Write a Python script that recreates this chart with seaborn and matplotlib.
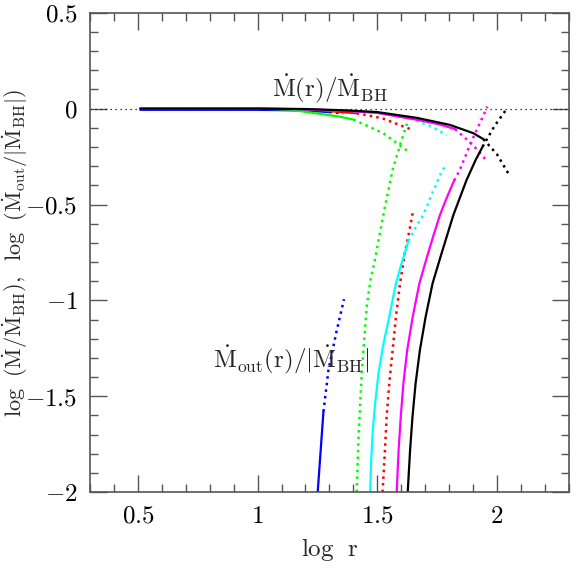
import matplotlib
matplotlib.use("Agg")
import matplotlib.pyplot as plt
import seaborn as sns
import pandas as pd
from matplotlib.ticker import MultipleLocator, FuncFormatter

# ---------------- data ----------------
# log(Mdot(r)/Mdot_BH) curves (top) and log(Mdot_out/|Mdot_BH|) curves (rising from bottom)
black_top_x = [0.51, 0.8, 1.0, 1.2, 1.386, 1.5, 1.665, 1.804, 1.901, 1.943]
black_top_y = [0.0, 0.0, 0.0, -0.002, -0.010, -0.018, -0.048, -0.085, -0.128, -0.159]
black_topd_x = [1.943, 2.0, 2.047]
black_topd_y = [-0.159, -0.238, -0.337]
black_out_x = [1.627, 1.637, 1.647, 1.660, 1.678, 1.702, 1.731, 1.766, 1.818, 1.873, 1.910, 1.940]
black_out_y = [-2.0, -1.781, -1.607, -1.433, -1.259, -1.085, -0.911, -0.765, -0.554, -0.372, -0.27, -0.198]
black_outd_x = [1.940, 1.99, 2.043]
black_outd_y = [-0.198, -0.09, 0.003]

magenta_top_x = [0.51, 0.8, 1.0, 1.2, 1.386, 1.5, 1.665, 1.76, 1.825]
magenta_top_y = [0.0, 0.0, 0.0, -0.003, -0.012, -0.022, -0.058, -0.082, -0.107]
magenta_topd_x = [1.825, 1.90, 1.96]
magenta_topd_y = [-0.107, -0.19, -0.276]
magenta_out_x = [1.581, 1.589, 1.598, 1.609, 1.625, 1.648, 1.676, 1.706, 1.735, 1.762, 1.790, 1.821]
magenta_out_y = [-2.0, -1.781, -1.607, -1.433, -1.259, -1.085, -0.911, -0.78, -0.66, -0.554, -0.465, -0.375]
magenta_outd_x = [1.821, 1.845, 1.89, 1.96]
magenta_outd_y = [-0.375, -0.319, -0.18, 0.011]

cyan_top_x = [0.51, 0.8, 1.0, 1.2, 1.386, 1.5, 1.637]
cyan_top_y = [0.0, 0.0, 0.0, -0.003, -0.012, -0.022, -0.050]
cyan_topd_x = [1.637, 1.72, 1.79]
cyan_topd_y = [-0.050, -0.09, -0.137]
cyan_out_x = [1.470, 1.474, 1.480, 1.490, 1.505, 1.525, 1.550, 1.578, 1.603, 1.630]
cyan_out_y = [-2.0, -1.85, -1.70, -1.55, -1.38, -1.23, -1.085, -0.911, -0.80, -0.69]
cyan_outd_x = [1.630, 1.660, 1.692, 1.730, 1.769, 1.790]
cyan_outd_y = [-0.69, -0.62, -0.554, -0.44, -0.328, -0.288]

red_top_x = [0.51, 0.8, 1.0, 1.2, 1.414]
red_top_y = [0.0, 0.0, 0.0, -0.004, -0.024]
red_topd_x = [1.414, 1.52, 1.609, 1.650]
red_topd_y = [-0.024, -0.05, -0.093, -0.112]
red_outd_x = [1.522, 1.532, 1.539, 1.550, 1.564, 1.578, 1.595, 1.614, 1.632, 1.648]
red_outd_y = [-2.0, -1.781, -1.607, -1.433, -1.259, -1.085, -0.911, -0.76, -0.65, -0.542]

green_top_x = [0.51, 0.8, 1.0, 1.135, 1.275, 1.344, 1.40]
green_top_y = [0.002, 0.002, 0.0, -0.005, -0.030, -0.042, -0.057]
green_topd_x = [1.40, 1.525, 1.63]
green_topd_y = [-0.057, -0.128, -0.224]
green_outd_x = [1.414, 1.421, 1.435, 1.456, 1.472, 1.490, 1.525, 1.564, 1.60, 1.63]
green_outd_y = [-2.0, -1.73, -1.38, -1.03, -0.89, -0.789, -0.554, -0.319, -0.17, -0.055]

blue_top_x = [0.51, 0.8, 1.0, 1.2, 1.30]
blue_top_y = [-0.006, -0.006, -0.006, -0.010, -0.018]
blue_topd_x = [1.30, 1.358]
blue_topd_y = [-0.018, -0.024]
blue_out_x = [1.251, 1.263, 1.275]
blue_out_y = [-2.0, -1.79, -1.58]
blue_outd_x = [1.275, 1.296, 1.33, 1.361]
blue_outd_y = [-1.58, -1.363, -1.16, -0.994]

zero_x = [0.3, 2.3]
zero_y = [0.0, 0.0]

# ---------------- style ----------------
sns.set_style("ticks")
plt.rcParams.update({
    "font.family": ["DejaVu Serif"],
    "mathtext.fontset": "cm",
    "axes.edgecolor": "#555555",
    "axes.linewidth": 1.2,
    "xtick.color": "#555555",
    "ytick.color": "#555555",
    "xtick.labelcolor": "black",
    "ytick.labelcolor": "black",
})

fig = plt.figure(figsize=(5.81, 5.81), dpi=100)
ax = fig.add_axes([0.155, 0.153, 0.824, 0.825])

segments = [
    (blue_top_x, blue_top_y, "#0000ff", "-"),
    (blue_topd_x, blue_topd_y, "#0000ff", ":"),
    (blue_out_x, blue_out_y, "#0000ff", "-"),
    (blue_outd_x, blue_outd_y, "#0000ff", ":"),
    (red_top_x, red_top_y, "#ff0000", "-"),
    (red_topd_x, red_topd_y, "#ff0000", ":"),
    (red_outd_x, red_outd_y, "#ff0000", ":"),
    (green_top_x, green_top_y, "#00ff00", "-"),
    (green_topd_x, green_topd_y, "#00ff00", ":"),
    (green_outd_x, green_outd_y, "#00ff00", ":"),
    (cyan_top_x, cyan_top_y, "#00ffff", "-"),
    (cyan_topd_x, cyan_topd_y, "#00ffff", ":"),
    (cyan_out_x, cyan_out_y, "#00ffff", "-"),
    (cyan_outd_x, cyan_outd_y, "#00ffff", ":"),
    (magenta_top_x, magenta_top_y, "#ff00ff", "-"),
    (magenta_topd_x, magenta_topd_y, "#ff00ff", ":"),
    (magenta_out_x, magenta_out_y, "#ff00ff", "-"),
    (magenta_outd_x, magenta_outd_y, "#ff00ff", ":"),
    (black_top_x, black_top_y, "black", "-"),
    (black_topd_x, black_topd_y, "black", ":"),
    (black_out_x, black_out_y, "black", "-"),
    (black_outd_x, black_outd_y, "black", ":"),
]

sns.lineplot(x=zero_x, y=zero_y, ax=ax, color="black", linestyle=(0, (1, 3)),
             linewidth=0.9, estimator=None, sort=False)
for xs, ys, c, ls in segments:
    df = pd.DataFrame({"x": xs, "y": ys})
    sns.lineplot(data=df, x="x", y="y", ax=ax, color=c,
                 linestyle=ls, linewidth=1.6 if ls == "-" else 1.8,
                 estimator=None, sort=False)

ax.set_xlim(0.3, 2.3)
ax.set_ylim(-2, 0.5)
ax.xaxis.set_major_locator(MultipleLocator(0.5))
ax.xaxis.set_minor_locator(MultipleLocator(0.1))
ax.yaxis.set_major_locator(MultipleLocator(0.5))
ax.yaxis.set_minor_locator(MultipleLocator(0.1))
fmt = FuncFormatter(lambda v, p: r"$\mathrm{%g}$" % (0 if abs(v) < 1e-9 else v))
ax.xaxis.set_major_formatter(fmt)
ax.yaxis.set_major_formatter(fmt)
ax.tick_params(which="both", direction="in", top=True, right=True, labelsize=18)
ax.tick_params(which="major", length=12, width=1.0, pad=9)
ax.tick_params(which="minor", length=6, width=1.0)

ax.set_xlabel(r"$\mathrm{log\ \ r}$", fontsize=18, labelpad=6)
ax.set_ylabel(r"$\mathrm{log\;\ (\dot{M}/\dot{M}_{BH}),\;\ log\;\ (\dot{M}_{out}/|\dot{M}_{BH}|)}$",
              fontsize=16)
ax.yaxis.set_label_coords(-0.125, 0.5)

ax.text(1.302, 0.056, r"$\mathrm{\dot{M}(r)/\dot{M}_{BH}}$", fontsize=18,
        ha="center", va="baseline")
ax.text(1.142, -1.353, r"$\mathrm{\dot{M}_{out}(r)/|\dot{M}_{BH}|}$", fontsize=18,
        ha="center", va="baseline")

fig.savefig("out.png", dpi=100)
